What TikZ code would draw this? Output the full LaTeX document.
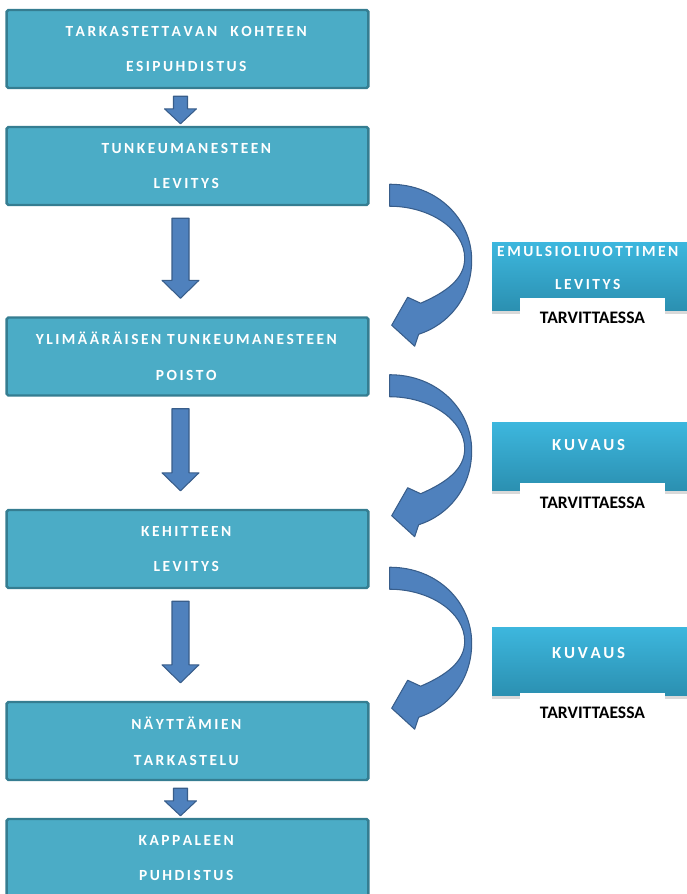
\documentclass[tikz,border=0pt]{standalone}
\usepackage{fontspec}
\newfontfamily\boxfont{Carlito}
\usetikzlibrary{calc,shadows}

\definecolor{boxfill}{HTML}{4BACC6}
\definecolor{boxline}{HTML}{357D91}
\definecolor{arrfill}{HTML}{4F81BD}
\definecolor{arrline}{HTML}{385D8A}
\definecolor{sidetop}{HTML}{3DB7DE}
\definecolor{sidebot}{HTML}{2B90B1}

% letter spaced word
\makeatletter
\newcommand\trk[1]{\@tfor\trk@c:=#1\do{\trk@c\kern0.16em}}
\makeatother

\tikzset{
	stepbox/.style={draw=boxline, line width=1.4pt, fill=boxfill, rounded corners=1pt,
		minimum width=7.24cm, minimum height=1.56cm, text=white, align=center,
		font=\boxfont\bfseries\fontsize{8.8}{20.4}\selectfont},
	sidebox/.style={top color=sidetop, bottom color=sidebot, minimum width=4cm, minimum height=1.36cm,
		drop shadow={opacity=0.3, shadow xshift=0pt, shadow yshift=-2pt}},
	sidetext/.style={text=white, align=center, font=\boxfont\bfseries\fontsize{8.8}{18.8}\selectfont},
	tab/.style={fill=white, anchor=north, minimum width=2.9cm, minimum height=0.76cm,
		font=\boxfont\bfseries\fontsize{10}{12}\selectfont},
	blockarrow/.style={fill=arrfill, draw=arrline, line width=0.6pt, line join=round}
}

\begin{document}
\begin{tikzpicture}[x=0.02cm, y=-0.02cm]
	\useasboundingbox (0,0) rectangle (687,894);
	% main column
	\node[stepbox] (b1) at (187.5,49) {\trk{TARKASTETTAVAN}\hspace{0.7em}\trk{KOHTEEN}\\\trk{ESIPUHDISTUS}};
	\node[stepbox] (b2) at (187.5,166) {\trk{TUNKEUMANESTEEN}\\\trk{LEVITYS}};
	\node[stepbox] (b3) at (187.5,356.5) {\trk{YLIMÄÄRÄISEN} \trk{TUNKEUMANESTEEN}\\\trk{POISTO}};
	\node[stepbox] (b4) at (187.5,549) {\trk{KEHITTEEN}\\\trk{LEVITYS}};
	\node[stepbox] (b5) at (187.5,741) {\trk{NÄYTTÄMIEN}\\\trk{TARKASTELU}};
	\node[stepbox] (b6) at (187.5,858) {\trk{KAPPALEEN}\\\trk{PUHDISTUS}};
	% straight arrows
	\foreach \a/\b/\s/\h/\l/\t/\e in {b1/b2/7/16/15/7/2, b2/b3/8.5/18.5/18/12/18,
		b3/b4/8.5/18.5/18/12/18, b4/b5/8.5/18.5/18/12/18, b5/b6/7/16/15/7/2}
		\filldraw[blockarrow] ($(\a.south)+(-7-\s,\t)$) -- ($(\a.south)+(-7+\s,\t)$)
			-- ($(\b.north)+(-7+\s,-\e-\l)$) -- ($(\b.north)+(-7+\h,-\e-\l)$)
			-- ($(\b.north)+(-7,-\e)$) -- ($(\b.north)+(-7-\h,-\e-\l)$)
			-- ($(\b.north)+(-7-\s,-\e-\l)$) -- cycle;
	% curved arrows
	\foreach \a in {b2,b3,b4}
		\filldraw[blockarrow, shift={($(\a.south east)+(20,-22)$)}]
			(0,0) .. controls (48,0) and (82,35) .. (82,76)
			.. controls (82,112) and (60,140) .. (29,150)
			-- (25,162) -- (2,141) -- (18,113) -- (31,119)
			.. controls (56,108) and (75,95) .. (75,74)
			.. controls (75,45) and (40,22) .. (0,22) -- cycle;
	% side boxes
	\node[sidebox] (s1) at (592,276) {};
	\node[sidetext] (s1t) at (589,268) {\trk{EMULSIOLIUOTTIMEN}\\\trk{LEVITYS}};
	\node[tab] (t1) at (592.5,298) {TARVITTAESSA};
	\node[sidebox] (s2) at (592,456) {};
	\node[sidetext, font=\boxfont\bfseries\fontsize{9.6}{12}\selectfont] (s2t) at (590,445) {\trk{KUVAUS}};
	\node[tab] (t2) at (592.5,483) {TARVITTAESSA};
	\node[sidebox] (s3) at (592,661) {};
	\node[sidetext, font=\boxfont\bfseries\fontsize{9.6}{12}\selectfont] (s3t) at (590,653) {\trk{KUVAUS}};
	\node[tab] (t3) at (592.5,693) {TARVITTAESSA};
\end{tikzpicture}
\end{document}
